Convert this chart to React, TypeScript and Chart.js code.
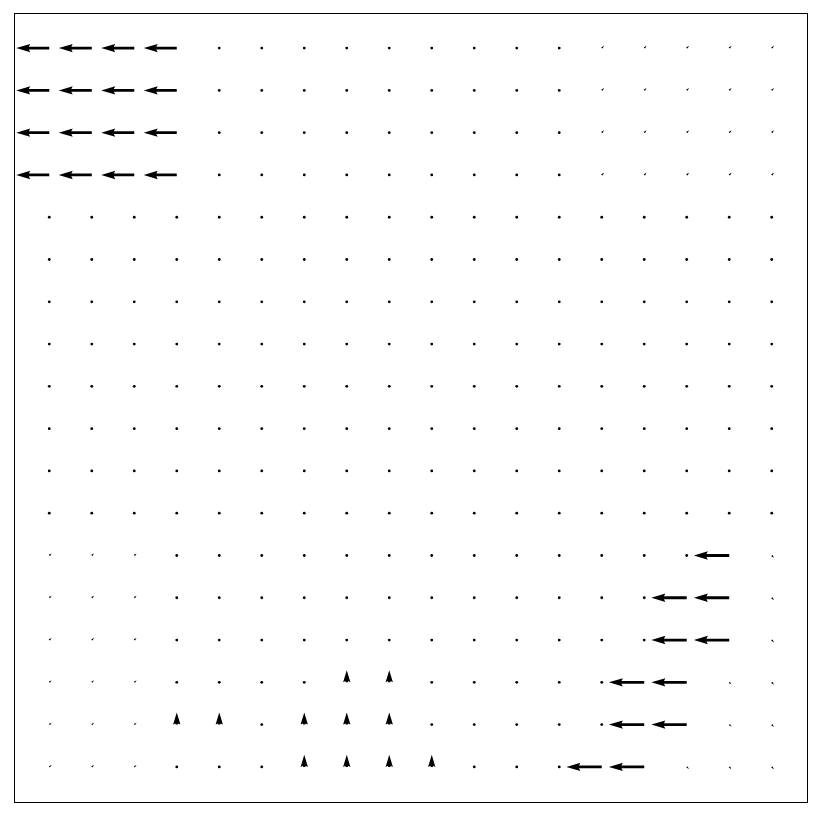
import React, { useEffect, useRef } from "react";
import { Chart, registerables } from "chart.js";

Chart.register(...registerables);

// Grid: 18 columns x 18 rows (row 0 is the top row of the picture)
const COLS: number[] = [0, 1, 2, 3, 4, 5, 6, 7, 8, 9, 10, 11, 12, 13, 14, 15, 16, 17];
const ROWS: number[] = [0, 1, 2, 3, 4, 5, 6, 7, 8, 9, 10, 11, 12, 13, 14, 15, 16, 17];

// Horizontal vector component per row (negative = left)
const U_ROWS: number[][] = [
  [-1, -1, -1, -1, 0.03, 0.03, 0.03, 0.03, 0.03, 0.05, 0.05, 0.05, 0.05, 0.07, 0.07, 0.07, 0.07, 0.07],
  [-1, -1, -1, -1, 0.03, 0.03, 0.03, 0.03, 0.03, 0.05, 0.05, 0.05, 0.05, 0.07, 0.07, 0.07, 0.07, 0.07],
  [-1, -1, -1, -1, 0.03, 0.03, 0.03, 0.03, 0.03, 0.05, 0.05, 0.05, 0.05, 0.07, 0.07, 0.07, 0.07, 0.07],
  [-1, -1, -1, -1, 0.03, 0.03, 0.03, 0.03, 0.03, 0.05, 0.05, 0.05, 0.05, 0.07, 0.07, 0.07, 0.07, 0.07],
  [0.06, 0.06, 0.06, 0, 0, 0, 0, 0, 0, 0, 0, 0, 0, 0, 0, 0.03, 0.05, 0.05],
  [0.06, 0.06, 0.06, 0, 0, 0, 0, 0, 0, 0, 0, 0, 0, 0, 0, 0.03, 0.05, 0.05],
  [0.06, 0.06, 0.06, 0, 0, 0, 0, 0, 0, 0, 0, 0, 0, 0, 0, 0.03, 0.05, 0.05],
  [0.06, 0.06, 0.06, 0, 0, 0, 0, 0, 0, 0, 0, 0, 0, 0, 0, 0.03, 0.05, 0.05],
  [0.06, 0.06, 0.06, 0, 0, 0, 0, 0, 0, 0, 0, 0, 0, 0, 0, 0.03, 0.05, 0.05],
  [0.06, 0.06, 0.06, 0, 0, 0, 0, 0, 0, 0, 0, 0, 0, 0, 0, 0.03, 0.05, 0.05],
  [0.06, 0.06, 0.06, 0, 0, 0, 0, 0, 0, 0, 0, 0, 0, 0, 0, 0.03, 0.05, 0.05],
  [0.06, 0.06, 0.06, 0, 0, 0, 0, 0, 0, 0, 0, 0, 0, 0, 0, 0.03, 0.05, 0.05],
  [0.07, 0.07, 0.07, 0, 0, 0, 0, 0, 0, 0, 0, 0, 0, 0, 0, 0, -1.07, 0.07],
  [0.07, 0.07, 0.07, 0, 0, 0, 0, 0, 0, 0, 0, 0, 0, 0, 0, -1.07, -1.07, 0.07],
  [0.07, 0.07, 0.07, 0, 0, 0, 0, 0, 0, 0, 0, 0, 0, 0, 0.03, -1.07, -1.07, 0.07],
  [0.07, 0.07, 0.07, 0.06, 0.06, 0, 0, 0, 0, 0, 0, 0, 0, 0.03, -1.07, -1.07, 0.07, 0.07],
  [0.07, 0.07, 0.07, 0, 0, 0.06, 0, 0, 0, 0.05, 0, 0, 0, 0.03, -1.07, -1.07, 0.07, 0.07],
  [0.07, 0.07, 0.07, 0.06, 0.06, 0.06, 0, 0, 0, 0, 0, 0, 0, -1.07, -1.07, 0.07, 0.07, 0.07],
];

// Vertical vector component per row (positive = up)
const V_ROWS: number[][] = [
  [0, 0, 0, 0, -0.03, -0.03, -0.03, -0.03, -0.03, 0.05, 0.05, 0.05, 0.05, 0.07, 0.07, 0.07, 0.07, 0.07],
  [0, 0, 0, 0, -0.03, -0.03, -0.03, -0.03, -0.03, 0.05, 0.05, 0.05, 0.05, 0.07, 0.07, 0.07, 0.07, 0.07],
  [0, 0, 0, 0, -0.03, -0.03, -0.03, -0.03, -0.03, 0.05, 0.05, 0.05, 0.05, 0.07, 0.07, 0.07, 0.07, 0.07],
  [0, 0, 0, 0, -0.03, -0.03, -0.03, -0.03, -0.03, 0.05, 0.05, 0.05, 0.05, 0.07, 0.07, 0.07, 0.07, 0.07],
  [-0.06, -0.06, -0.06, 0, 0, 0, 0, 0, 0, 0, 0, 0, 0, 0, 0, -0.03, -0.06, -0.06],
  [-0.06, -0.06, -0.06, 0, 0, 0, 0, 0, 0, 0, 0, 0, 0, 0, 0, -0.03, -0.06, -0.06],
  [-0.06, -0.06, -0.06, 0, 0, 0, 0, 0, 0, 0, 0, 0, 0, 0, 0, -0.03, -0.06, -0.06],
  [-0.06, -0.06, -0.06, 0, 0, 0, 0, 0, 0, 0, 0, 0, 0, 0, 0, -0.03, -0.06, -0.06],
  [-0.06, -0.06, -0.06, 0, 0, 0, 0, 0, 0, 0, 0, 0, 0, 0, 0, -0.03, -0.06, -0.06],
  [-0.06, -0.06, -0.06, 0, 0, 0, 0, 0, 0, 0, 0, 0, 0, 0, 0, -0.03, -0.06, -0.06],
  [-0.06, -0.06, -0.06, 0, 0, 0, 0, 0, 0, 0, 0, 0, 0, 0, 0, -0.03, -0.06, -0.06],
  [-0.06, -0.06, -0.06, 0, 0, 0, 0, 0, 0, 0, 0, 0, 0, 0, 0, -0.03, -0.06, -0.06],
  [0.06, 0.06, 0.06, 0, 0, 0, 0, 0, 0, 0, 0, 0, 0, 0, 0, 0, 0, -0.07],
  [0.06, 0.06, 0.06, 0, 0, 0, 0, 0, 0, 0, 0, 0, 0, 0, 0, 0, 0, -0.07],
  [0.06, 0.06, 0.06, 0, 0, 0, 0, 0, 0, 0, 0, 0, 0, 0, -0.03, 0, 0, -0.07],
  [0.06, 0.06, 0.06, 0.05, 0.05, 0, 0, 0.37, 0.37, 0, 0, 0, 0, -0.03, 0, 0, -0.06, -0.07],
  [0.06, 0.06, 0.06, 0.37, 0.37, 0.05, 0.37, 0.37, 0.37, 0, 0, 0, 0, -0.03, 0, 0, -0.06, -0.07],
  [0.06, 0.06, 0.06, 0.05, 0.05, 0.05, 0.37, 0.37, 0.37, 0.37, 0, 0, 0, 0, 0, -0.06, -0.06, -0.07],
];

const VECTOR_SCALE = 0.778; // grid units per unit vector
const AXIS_PAD = 0.83;

type QPoint = { x: number; y: number; u: number; v: number };

const quiverPlugin = {
  id: "quiver",
  afterDatasetsDraw(chart: any) {
    const ctx: CanvasRenderingContext2D = chart.ctx;
    const xs = chart.scales.x;
    const ys = chart.scales.y;
    const data = chart.data.datasets[0].data as QPoint[];
    const w = 2.8;
    const hl = 5 * w;
    const hal = 4.5 * w;
    const hw = 3 * w;
    ctx.save();
    ctx.fillStyle = "#000000";
    for (const p of data) {
      const px = xs.getPixelForValue(p.x);
      const py = ys.getPixelForValue(p.y);
      const ex = xs.getPixelForValue(p.x + p.u * VECTOR_SCALE);
      const ey = ys.getPixelForValue(p.y + p.v * VECTOR_SCALE);
      const dx = ex - px;
      const dy = ey - py;
      const L = Math.hypot(dx, dy);
      if (L < w) {
        ctx.beginPath();
        ctx.arc(px, py, w / 2, 0, Math.PI * 2);
        ctx.fill();
        continue;
      }
      let len = L;
      let k = 1;
      if (L < hl) {
        len = hl;
        k = L / hl;
      }
      const pts: [number, number][] = [
        [0, -w / 2],
        [len - hal, -w / 2],
        [len - hl, -hw / 2],
        [len, 0],
        [len - hl, hw / 2],
        [len - hal, w / 2],
        [0, w / 2],
      ];
      const c = dx / L;
      const s = dy / L;
      ctx.beginPath();
      pts.forEach(([a, b], i) => {
        const ax = a * k;
        const by = b * k;
        const X = px + ax * c - by * s;
        const Y = py + ax * s + by * c;
        if (i === 0) ctx.moveTo(X, Y);
        else ctx.lineTo(X, Y);
      });
      ctx.closePath();
      ctx.fill();
    }
    ctx.restore();
  },
  afterDraw(chart: any) {
    const { ctx, chartArea } = chart;
    ctx.save();
    ctx.strokeStyle = "#000000";
    ctx.lineWidth = 1;
    ctx.strokeRect(
      Math.round(chartArea.left) + 0.5,
      Math.round(chartArea.top) + 0.5,
      Math.round(chartArea.right - chartArea.left),
      Math.round(chartArea.bottom - chartArea.top)
    );
    ctx.restore();
  },
};

export default function App() {
  const canvasRef = useRef<HTMLCanvasElement | null>(null);

  useEffect(() => {
    if (!canvasRef.current) return;
    const points: QPoint[] = [];
    ROWS.forEach((r) => {
      COLS.forEach((c) => {
        points.push({ x: c, y: ROWS.length - 1 - r, u: U_ROWS[r][c], v: V_ROWS[r][c] });
      });
    });
    const chart = new Chart(canvasRef.current, {
      type: "scatter",
      data: {
        datasets: [
          {
            data: points as any,
            pointRadius: 0,
            pointHoverRadius: 0,
            showLine: false,
          },
        ],
      },
      options: {
        animation: false,
        responsive: false,
        devicePixelRatio: 1,
        layout: { padding: { left: 14, top: 13, right: 13, bottom: 13 } },
        plugins: { legend: { display: false }, tooltip: { enabled: false } },
        scales: {
          x: { type: "linear", display: false, min: -AXIS_PAD, max: COLS.length - 1 + AXIS_PAD },
          y: { type: "linear", display: false, min: -AXIS_PAD, max: ROWS.length - 1 + AXIS_PAD },
        },
      },
      plugins: [quiverPlugin],
    });
    return () => chart.destroy();
  }, []);

  return (
    <div style={{ position: "absolute", left: 0, top: 0, width: 820, height: 815, background: "#ffffff" }}>
      <canvas ref={canvasRef} width={820} height={815} style={{ width: 820, height: 815, display: "block" }} />
    </div>
  );
}
